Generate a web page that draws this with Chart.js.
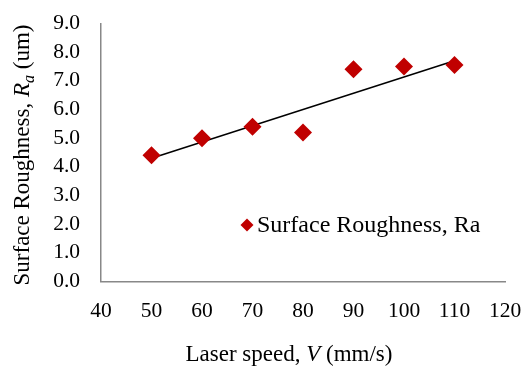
<!DOCTYPE html>
<html>
<head>
<meta charset="utf-8">
<script src="https://cdn.jsdelivr.net/npm/chart.js@4/dist/chart.umd.min.js"></script>
<style>
    html, body { margin: 0; padding: 0; background: #fff; }
    #wrap { width: 531px; height: 367px; position: relative; }
</style>
</head>
<body>
<div id="wrap"><canvas id="roughnessChart" width="531" height="367"></canvas></div>
<script>
const laserSpeed = [50, 60, 70, 80, 90, 100, 110];
const roughness = [4.4, 5.0, 5.4, 5.2, 7.4, 7.5, 7.55];
const trendSpeed = [50, 110];
const trendRoughness = [4.3, 7.7];
const seriesName = "Surface Roughness, Ra";

const FONT = "'Liberation Serif', 'Times New Roman', serif";
const MARK = "#c00000";
const TITLE_SIZE = 23;

// axis titles need italic and subscript pieces, so they are drawn by hand
const titlePlugin = {
    id: "titles",
    afterDraw(chart) {
        const ctx = chart.ctx;
        ctx.save();
        ctx.fillStyle = "#000";
        ctx.textBaseline = "alphabetic";

        // x title
        const xParts = [
            ["Laser speed, ", TITLE_SIZE + "px " + FONT],
            ["V", "italic " + TITLE_SIZE + "px " + FONT],
            [" (mm/s)", TITLE_SIZE + "px " + FONT]
        ];
        let total = 0;
        xParts.forEach(p => { ctx.font = p[1]; total += ctx.measureText(p[0]).width; });
        let x = 289 - total / 2;
        xParts.forEach(p => {
            ctx.font = p[1];
            ctx.fillText(p[0], x, 361);
            x += ctx.measureText(p[0]).width;
        });

        // y title, rotated
        const yParts = [
            ["Surface Roughness, ", TITLE_SIZE + "px " + FONT, 0],
            ["R", "italic " + TITLE_SIZE + "px " + FONT, 0],
            ["a", "italic 16px " + FONT, 5],
            [" (um)", TITLE_SIZE + "px " + FONT, 0]
        ];
        total = 0;
        yParts.forEach(p => { ctx.font = p[1]; total += ctx.measureText(p[0]).width; });
        ctx.translate(29, 155);
        ctx.rotate(-Math.PI / 2);
        x = -total / 2;
        yParts.forEach(p => {
            ctx.font = p[1];
            ctx.fillText(p[0], x, p[2]);
            x += ctx.measureText(p[0]).width;
        });
        ctx.restore();

        // legend inside the plot
        ctx.save();
        const lx = 247, ly = 225;
        ctx.fillStyle = MARK;
        ctx.beginPath();
        ctx.moveTo(lx - 6.5, ly);
        ctx.lineTo(lx, ly - 6.5);
        ctx.lineTo(lx + 6.5, ly);
        ctx.lineTo(lx, ly + 6.5);
        ctx.closePath();
        ctx.fill();
        ctx.fillStyle = "#000";
        ctx.font = "24px " + FONT;
        ctx.textBaseline = "middle";
        ctx.fillText(seriesName, 257, ly + 1);
        ctx.restore();
    }
};

new Chart(document.getElementById("roughnessChart"), {
    type: "scatter",
    data: {
        datasets: [
            {
                label: seriesName,
                data: laserSpeed.map((v, i) => ({ x: v, y: roughness[i] })),
                pointStyle: "rectRot",
                pointRadius: 9,
                pointHoverRadius: 9,
                backgroundColor: MARK,
                borderColor: MARK,
                borderWidth: 0
            },
            {
                label: "Linear",
                type: "line",
                data: trendSpeed.map((v, i) => ({ x: v, y: trendRoughness[i] })),
                borderColor: "#000",
                borderWidth: 1.5,
                pointRadius: 0,
                fill: false
            }
        ]
    },
    options: {
        responsive: false,
        animation: false,
        devicePixelRatio: 1,
        layout: { padding: { top: 23.5, right: 26, left: 0, bottom: 0 } },
        plugins: {
            legend: { display: false },
            tooltip: { enabled: false }
        },
        scales: {
            x: {
                type: "linear",
                min: 40,
                max: 120,
                ticks: {
                    stepSize: 10,
                    padding: 17,
                    color: "#000",
                    font: { family: FONT, size: 21.5 }
                },
                grid: { display: false, drawTicks: false },
                border: { display: true, color: "#888", width: 1.5 },
                afterFit: s => { s.height = 85.5; s.paddingLeft = 0; s.paddingRight = 0; }
            },
            y: {
                min: 0,
                max: 9,
                ticks: {
                    stepSize: 1,
                    autoSkip: false,
                    padding: 21,
                    color: "#000",
                    font: { family: FONT, size: 21.5 },
                    callback: v => v.toFixed(1)
                },
                grid: { display: false, drawTicks: false },
                border: { display: true, color: "#888", width: 1.5 },
                afterFit: s => { s.width = 101; s.paddingTop = 0; s.paddingBottom = 0; }
            }
        }
    },
    plugins: [titlePlugin]
});
</script>
</body>
</html>
